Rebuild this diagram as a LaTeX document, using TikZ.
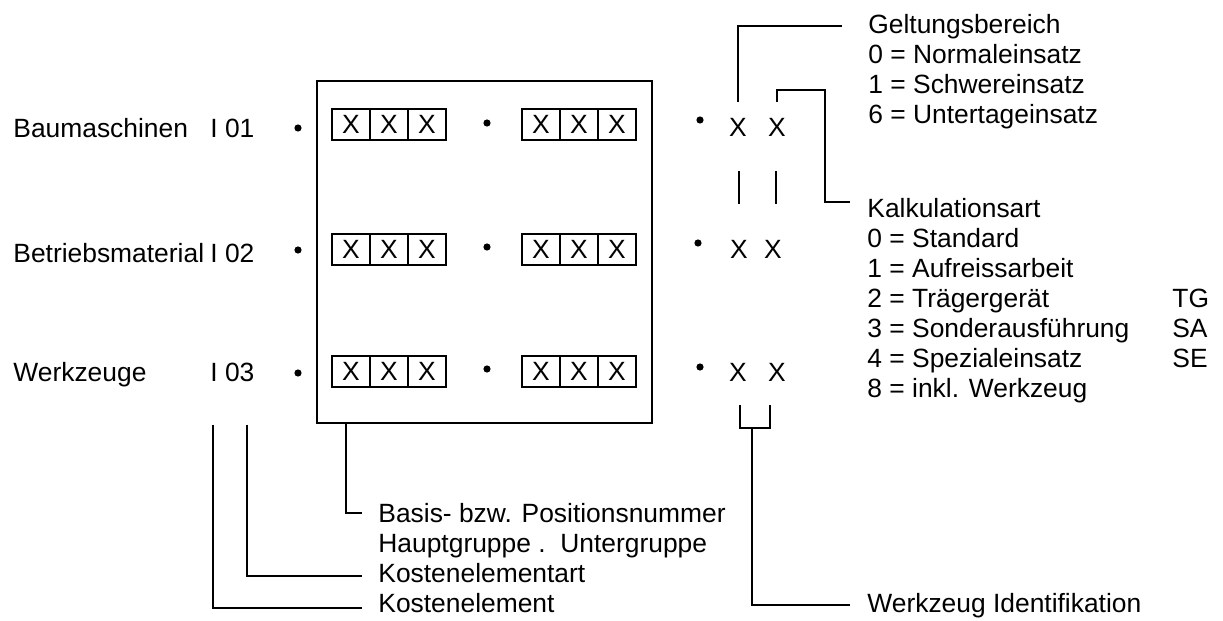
\documentclass[tikz,border=0pt]{standalone}
\usepackage{fontspec}
\setmainfont{Liberation Sans}

\begin{document}
\begin{tikzpicture}[
        x=0.5pt, y=-0.5pt,
        txt/.style={inner sep=0pt, anchor=base west, font=\fontsize{13.2}{15}\selectfont},
        xmark/.style={inner sep=0pt, font=\fontsize{13.2}{15}\selectfont},
        cell/.style={draw, line width=1pt, minimum width=19pt, minimum height=15.5pt, inner sep=0pt, font=\fontsize{13.2}{15}\selectfont},
        dot/.style={circle, fill=black, inner sep=0pt, minimum size=3.6pt},
        frame/.style={draw, line width=1.2pt, minimum width=167.5pt, minimum height=171pt, inner sep=0pt},
        link/.style={draw=black, line width=1pt}
    ]
        \useasboundingbox (0,0) rectangle (1223,621);
        \node[frame] (frame) at (484.5,252) {};
        \node[txt] (name1) at (13,137) {Baumaschinen};
        \node[txt] (code1) at (210,137) {I 01};
        \node[txt] (name2) at (13,262) {Betriebsmaterial};
        \node[txt] (code2) at (210,262) {I 02};
        \node[txt] (name3) at (13,381) {Werkzeuge};
        \node[txt] (code3) at (210,381) {I 03};
        \foreach \r/\y in {1/124, 2/249, 3/371}
            \foreach \c/\x in {1/351, 2/389, 3/427, 4/541, 5/579, 6/617}
                \node[cell] (c\r\c) at (\x,\y) {X};
        \node[dot] (d11) at (298,128) {};
        \node[dot] (d12) at (487,123) {};
        \node[dot] (d13) at (700,120) {};
        \node[dot] (d21) at (298,250) {};
        \node[dot] (d22) at (487,247) {};
        \node[dot] (d23) at (698,243) {};
        \node[dot] (d31) at (298,373) {};
        \node[dot] (d32) at (487,369) {};
        \node[dot] (d33) at (700,367) {};
        \node[xmark] (xa1) at (738,127) {X};
        \node[xmark] (xb1) at (777,127) {X};
        \node[xmark] (xa2) at (739,249) {X};
        \node[xmark] (xb2) at (773,249) {X};
        \node[xmark] (xa3) at (738,372) {X};
        \node[xmark] (xb3) at (777,372) {X};
        \node[txt] (gelt) at (868,33) {Geltungsbereich};
        \node[txt] (geltlist) at (868,63) {\begin{tabular}[t]{@{}l@{}}0 = Normaleinsatz\\1 = Schwereinsatz\\6 = Untertageinsatz\end{tabular}};
        \node[txt] (kalk) at (867,217) {Kalkulationsart};
        \node[txt] (kalklist) at (867,247) {\begin{tabular}[t]{@{}p{152.5pt}@{}l@{}}0 = Standard&\\1 = Aufreissarbeit&\\2 = Trägergerät&TG\\3 = Sonderausführung&SA\\4 = Spezialeinsatz&SE\\8 = inkl. Werkzeug&\end{tabular}};
        \node[txt] (basis) at (378,522) {Basis- bzw. Positionsnummer};
        \node[txt] (haupt) at (378,552) {Hauptgruppe .~~Untergruppe};
        \node[txt] (kart) at (378,582) {Kostenelementart};
        \node[txt] (kost) at (378,612) {Kostenelement};
        \node[txt] (werk) at (867,612) {Werkzeug Identifikation};
        \coordinate (kbend) at (825,90);
        % Geltungsbereich / Kalkulationsart
        \draw[link] ([yshift=8pt]xa1.north) |- ([xshift=-13pt]gelt.west);
        \draw[link] ([yshift=8pt]xb1.north) |- (kbend) |- ([xshift=-8.5pt,yshift=3pt]kalk.west);
        \draw[link] ([xshift=0.5pt,yshift=-17.5pt]xa1.south) -- ++(0,-16.5pt);
        \draw[link] ([xshift=-0.5pt,yshift=-17.5pt]xb1.south) -- ++(0,-16.5pt);
        % Werkzeug Identifikation
        \draw[link] ([xshift=1pt,yshift=-12pt]xa3.south) |- ([xshift=-3.5pt,yshift=-23.5pt]xb3.south) -- ([xshift=-3.5pt,yshift=-12pt]xb3.south);
        \draw[link] ([xshift=7pt,yshift=-23.5pt]xa3.south) |- ([xshift=-8.5pt]werk.west);
        % Kostenelement / Basis
        \draw[link] ([xshift=1.5pt,yshift=-21.5pt]code3.south west) |- ([xshift=-8pt,yshift=-2.5pt]kost.west);
        \draw[link] ([xshift=18.5pt,yshift=-21.5pt]code3.south west) |- ([xshift=-8pt,yshift=-1.5pt]kart.west);
        \draw[link] ([xshift=15pt]frame.south west) |- ([xshift=-8pt]basis.west);
    \end{tikzpicture}
\end{document}
